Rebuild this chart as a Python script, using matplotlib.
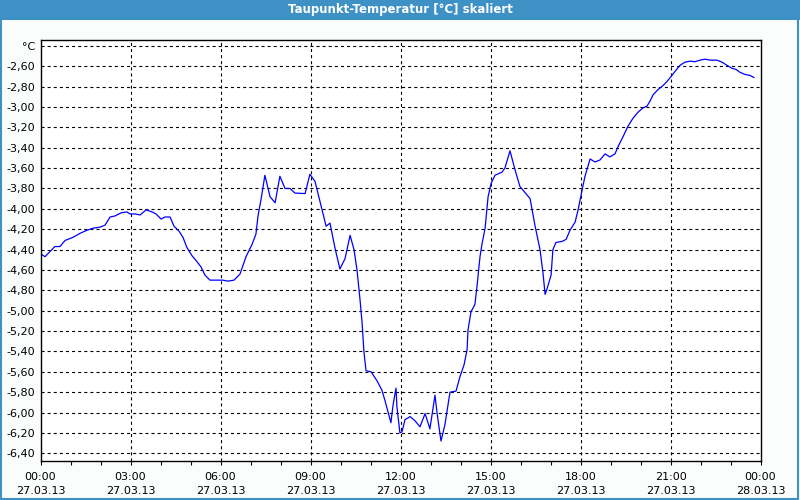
import matplotlib
matplotlib.use("Agg")
import matplotlib.pyplot as plt
from matplotlib.patches import Rectangle

# Stunden ab 27.03.13 00:00
hours = [0.0, 0.15, 0.48, 0.65, 0.82, 1.08, 1.32, 1.55, 1.75, 1.98, 2.15, 2.32, 2.48,
         2.68, 2.88, 2.98, 3.15, 3.32, 3.52, 3.72, 3.85, 4.02, 4.15, 4.32, 4.45, 4.62,
         4.75, 4.88, 5.05, 5.22, 5.35, 5.48, 5.65, 5.88, 6.08, 6.25, 6.45, 6.65, 6.85,
         7.05, 7.18, 7.25, 7.35, 7.48, 7.65, 7.82, 7.98, 8.15, 8.32, 8.48, 8.82, 8.98,
         9.15, 9.25, 9.38, 9.52, 9.65, 9.82, 9.98, 10.15, 10.32, 10.45, 10.55, 10.65,
         10.72, 10.78, 10.85, 11.02, 11.22, 11.38, 11.48, 11.58, 11.68, 11.75, 11.85,
         11.88, 11.98, 12.05, 12.15, 12.32, 12.48, 12.65, 12.82, 12.98, 13.15, 13.22,
         13.35, 13.48, 13.65, 13.85, 13.98, 14.12, 14.22, 14.25, 14.35, 14.48, 14.55,
         14.65, 14.72, 14.82, 14.88, 14.92, 15.02, 15.15, 15.38, 15.48, 15.65, 15.82,
         15.98, 16.15, 16.32, 16.48, 16.65, 16.75, 16.82, 16.88, 17.02, 17.08, 17.18,
         17.38, 17.52, 17.65, 17.82, 17.92, 18.05, 18.15, 18.32, 18.48, 18.65, 18.82,
         18.98, 19.15, 19.25, 19.42, 19.58, 19.75, 19.92, 20.08, 20.22, 20.32, 20.42,
         20.58, 20.75, 20.88, 21.02, 21.15, 21.32, 21.48, 21.65, 21.82, 21.98, 22.15,
         22.32, 22.55, 22.72, 22.88, 23.05, 23.18, 23.32, 23.48, 23.65, 23.78]

taupunkt = [-4.44, -4.47, -4.37, -4.37, -4.31, -4.28, -4.24, -4.21, -4.19, -4.18, -4.16,
            -4.08, -4.07, -4.04, -4.03, -4.05, -4.05, -4.06, -4.01, -4.03, -4.05, -4.10,
            -4.08, -4.08, -4.17, -4.22, -4.28, -4.38, -4.46, -4.52, -4.57, -4.65, -4.70,
            -4.70, -4.70, -4.71, -4.70, -4.64, -4.47, -4.35, -4.25, -4.07, -3.91, -3.67,
            -3.88, -3.94, -3.68, -3.80, -3.80, -3.845, -3.85, -3.66, -3.73, -3.85, -4.01,
            -4.17, -4.14, -4.39, -4.59, -4.49, -4.26, -4.40, -4.60, -4.89, -5.12, -5.40,
            -5.59, -5.60, -5.69, -5.78, -5.88, -5.99, -6.10, -5.93, -5.76, -5.94, -6.20,
            -6.19, -6.07, -6.04, -6.08, -6.14, -6.01, -6.16, -5.83, -6.01, -6.28, -6.12,
            -5.80, -5.79, -5.65, -5.53, -5.38, -5.19, -5.01, -4.94, -4.76, -4.47, -4.34,
            -4.19, -4.01, -3.88, -3.75, -3.67, -3.64, -3.60, -3.43, -3.62, -3.78, -3.84,
            -3.90, -4.16, -4.40, -4.63, -4.84, -4.79, -4.65, -4.40, -4.33, -4.32, -4.30,
            -4.21, -4.13, -4.01, -3.82, -3.68, -3.51, -3.54, -3.52, -3.46, -3.49, -3.46,
            -3.39, -3.29, -3.19, -3.11, -3.05, -3.01, -2.99, -2.94, -2.88, -2.83, -2.79,
            -2.75, -2.70, -2.65, -2.59, -2.56, -2.55, -2.555, -2.54, -2.53, -2.54, -2.54,
            -2.56, -2.59, -2.62, -2.63, -2.66, -2.68, -2.69, -2.71]

x_ticks = [0, 3, 6, 9, 12, 15, 18, 21, 24]
x_labels = ["00:00\n27.03.13", "03:00\n27.03.13", "06:00\n27.03.13", "09:00\n27.03.13",
            "12:00\n27.03.13", "15:00\n27.03.13", "18:00\n27.03.13", "21:00\n27.03.13",
            "00:00\n28.03.13"]
y_ticks = [-2.4 - 0.2 * i for i in range(21)]
y_labels = ["°C"] + [f"{v:.2f}".replace(".", ",") for v in y_ticks[1:]]

blau = "#3d91c4"
plt.rcParams["lines.scale_dashes"] = False

fig = plt.figure(figsize=(8, 5), dpi=100, facecolor="#fbfdfd")

# Titelleiste und Fensterrahmen
fig.patches.append(Rectangle((0, 0.96), 1, 0.04, transform=fig.transFigure,
                             facecolor=blau, edgecolor="none"))
fig.patches.append(Rectangle((0.001, 0.003), 0.996, 0.96, transform=fig.transFigure,
                             facecolor="none", edgecolor=blau, lw=1.5))
fig.text(0.5, 0.98, "Taupunkt-Temperatur [°C] skaliert", color="white",
         ha="center", va="center", fontsize=8.5, fontweight="bold")

ax = fig.add_axes([40.5 / 800, 39.5 / 500, 720 / 800, 420.5 / 500])
ax.set_facecolor("white")
ax.plot(hours, taupunkt, color="#0000ff", lw=0.9)

ax.set_xlim(0, 24)
ax.set_ylim(-6.471, -2.342)
ax.set_xticks(x_ticks)
ax.set_xticklabels(x_labels, fontsize=8, linespacing=1.6)
ax.set_xticks(range(25), minor=True)
ax.set_yticks(y_ticks)
ax.set_yticklabels(y_labels, fontsize=8)

ax.tick_params(axis="x", which="both", length=3, width=0.8, pad=5)
ax.tick_params(axis="y", length=0, pad=4)

dash = (0, (2.2, 2.2))
for v in y_ticks:
    ax.axhline(v, color="black", lw=0.8, ls=dash, zorder=0)
for h in x_ticks[1:-1]:
    ax.axvline(h, color="black", lw=0.8, ls=dash, zorder=0)

for s in ax.spines.values():
    s.set_linewidth(1)

fig.savefig("out.png", dpi=100, facecolor=fig.get_facecolor())
